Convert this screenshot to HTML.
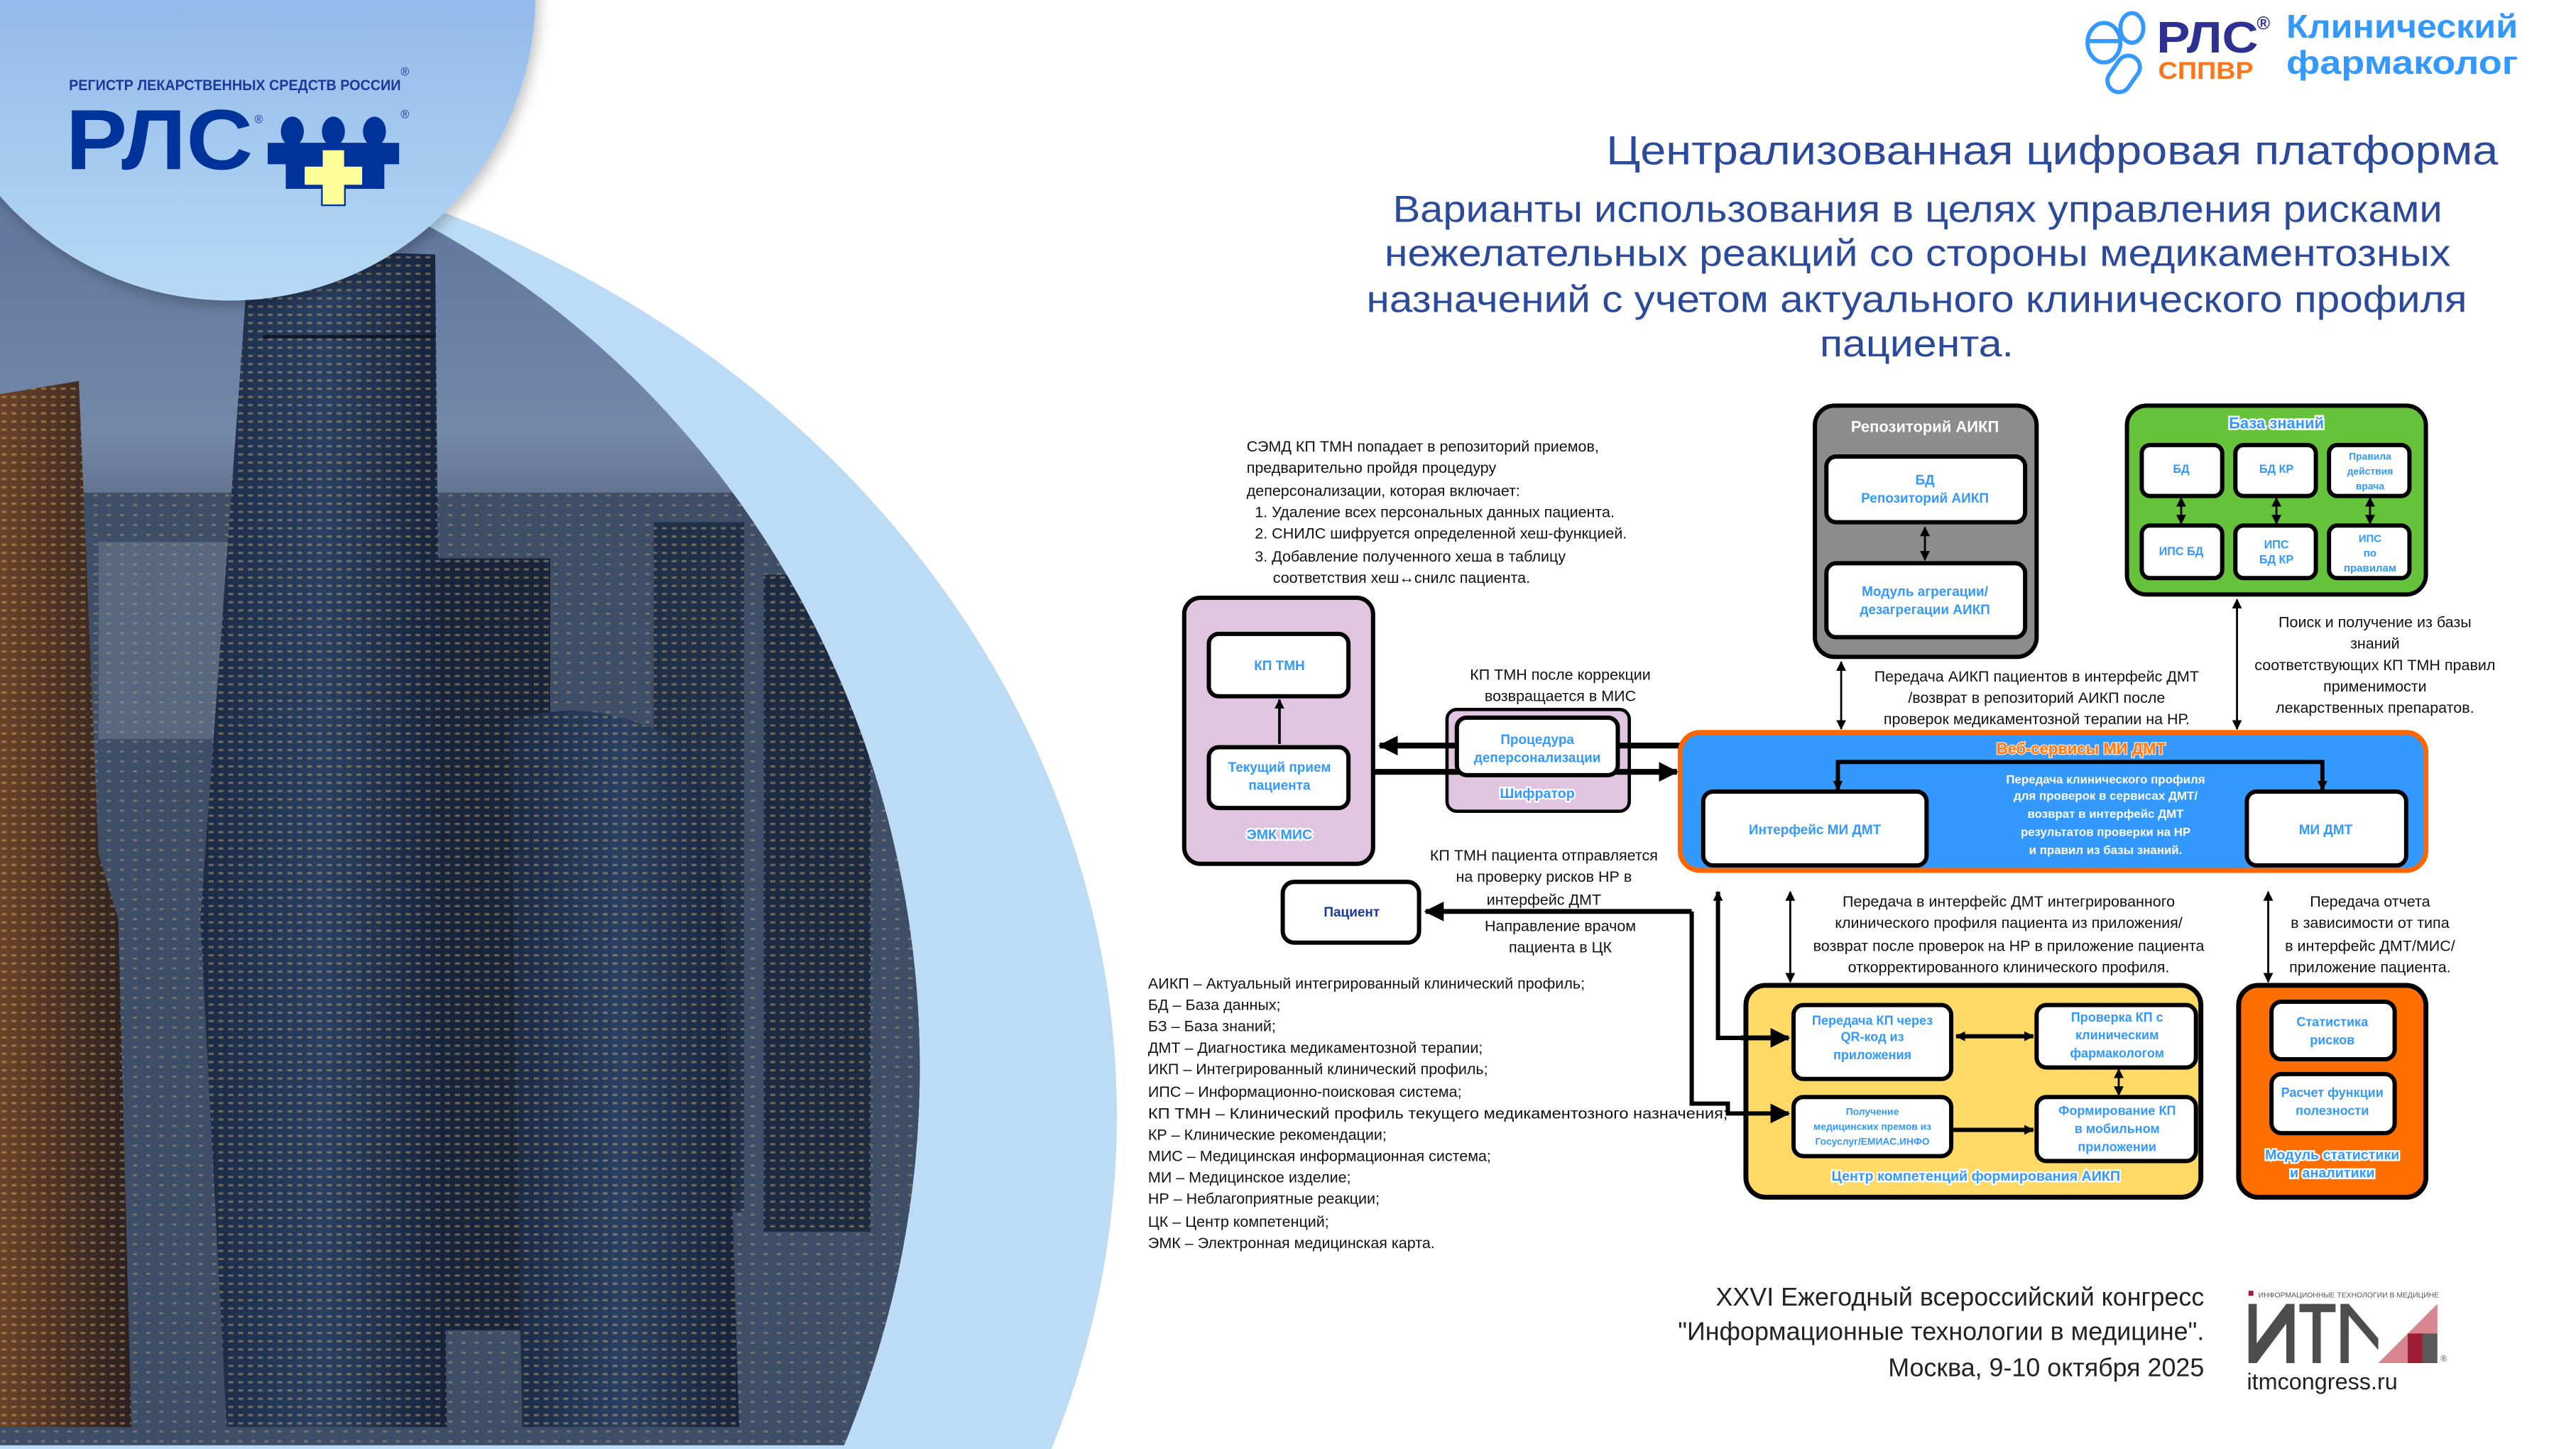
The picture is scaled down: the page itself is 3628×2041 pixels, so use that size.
<!DOCTYPE html>
<html><head><meta charset="utf-8"><style>
html,body{margin:0;padding:0;background:#fff;width:3628px;height:2041px;overflow:hidden;}
svg{display:block;}
text{font-family:"Liberation Sans","DejaVu Sans",sans-serif;}
</style></head><body>
<svg width="3628" height="2041" viewBox="0 0 1568.4 882.3" preserveAspectRatio="xMinYMin meet" xmlns="http://www.w3.org/2000/svg">
<defs>
<linearGradient id="logoG" x1="0" y1="0" x2="0" y2="1"><stop offset="0" stop-color="#6e9be0"/><stop offset="1" stop-color="#b7d9f5"/></linearGradient>
<linearGradient id="sky" x1="0" y1="0" x2="0" y2="1"><stop offset="0" stop-color="#4f6890"/><stop offset="0.3" stop-color="#7488a8"/><stop offset="0.36" stop-color="#5b6c86"/><stop offset="1" stop-color="#1f2c42"/></linearGradient>
<linearGradient id="tw" x1="0" y1="0" x2="1" y2="0"><stop offset="0" stop-color="#1a2a46"/><stop offset="0.5" stop-color="#2a4062"/><stop offset="1" stop-color="#15223a"/></linearGradient>
<linearGradient id="lb" x1="0" y1="0" x2="1" y2="0"><stop offset="0" stop-color="#6a4228"/><stop offset="1" stop-color="#2a2020"/></linearGradient>
<pattern id="win" width="6" height="5" patternUnits="userSpaceOnUse"><rect x="1" y="1" width="3" height="1.4" fill="#e8c479" opacity="0.4"/></pattern>
<pattern id="win2" width="8" height="6" patternUnits="userSpaceOnUse"><rect x="1" y="1" width="2.5" height="1.3" fill="#f0d08a" opacity="0.3"/></pattern>
<clipPath id="photo"><ellipse cx="0" cy="650" rx="560" ry="579"/></clipPath>
<marker id="a" markerWidth="6" markerHeight="6" refX="5.5" refY="3" orient="auto-start-reverse" markerUnits="userSpaceOnUse"><path d="M0,0 L6,3 L0,6 Z" fill="#000"/></marker>
<marker id="A" markerWidth="12" markerHeight="12" refX="11" refY="6" orient="auto-start-reverse" markerUnits="userSpaceOnUse"><path d="M0,0 L12,6 L0,12 Z" fill="#000"/></marker>
<filter id="sh" x="-20%" y="-20%" width="140%" height="140%"><feDropShadow dx="2" dy="3" stdDeviation="4" flood-color="#000" flood-opacity="0.25"/></filter>
</defs>

<ellipse cx="0" cy="680" rx="680" ry="600" fill="#bcdcf5"/>
<g clip-path="url(#photo)">
  <rect x="0" y="0" width="600" height="880" fill="url(#sky)"/>
  <rect x="0" y="300" width="600" height="580" fill="#3e4e66"/>
  <rect x="0" y="300" width="600" height="580" fill="url(#win2)"/>
  <rect x="60" y="330" width="90" height="120" fill="#8a9ab0" opacity="0.35"/>
  <polygon points="0,240 48,232 60,520 72,560 80,869 0,869" fill="url(#lb)"/>
  <polygon points="0,240 48,232 60,520 72,560 80,869 0,869" fill="url(#win)"/>
  <rect x="265" y="340" width="70" height="470" fill="#18243a"/>
  <rect x="265" y="340" width="70" height="470" fill="url(#win)"/>
  <rect x="398" y="318" width="55" height="420" fill="#1f3048"/>
  <rect x="398" y="318" width="55" height="420" fill="url(#win)"/>
  <rect x="465" y="350" width="65" height="400" fill="#1c2b42"/>
  <rect x="465" y="350" width="65" height="400" fill="url(#win)"/>
  <path d="M310,440 Q360,420 420,455 L440,540 L450,869 L318,869 Z" fill="url(#tw)"/>
  <path d="M310,440 Q360,420 420,455 L440,540 L450,869 L318,869 Z" fill="url(#win)"/>
  <path d="M150,175 Q160,150 265,155 L268,500 L272,869 L138,869 L122,560 Z" fill="url(#tw)"/>
  <path d="M150,175 Q160,150 265,155 L268,500 L272,869 L138,869 L122,560 Z" fill="url(#win)"/>
  <line x1="160" y1="205" x2="265" y2="205" stroke="#0e1828" stroke-width="2"/>
</g>
<circle cx="140" cy="-3" r="186" fill="url(#logoG)" filter="url(#sh)"/>

<text x="42" y="55" font-size="9.2" font-weight="bold" fill="#1a3a9a" textLength="202" lengthAdjust="spacingAndGlyphs">РЕГИСТР ЛЕКАРСТВЕННЫХ СРЕДСТВ РОССИИ</text>
<text x="244" y="46" font-size="7" fill="#1a3a9a">®</text>
<text x="40" y="103" font-size="52" font-weight="bold" fill="#00339a" textLength="114" lengthAdjust="spacingAndGlyphs">РЛС</text>
<text x="155" y="75" font-size="7" fill="#1a3a9a">®</text>
<g fill="#00339a">
  <ellipse cx="178" cy="80" rx="7" ry="9"/><ellipse cx="203" cy="80" rx="7" ry="9"/><ellipse cx="228" cy="80" rx="7" ry="9"/>
  <rect x="163" y="87" width="80" height="13"/><rect x="174" y="87" width="60" height="28"/>
</g>
<polygon points="196,91 210,91 210,101 221,101 221,113 210,113 210,125 196,125 196,113 185,113 185,101 196,101" fill="#ffff99" stroke="#00339a" stroke-width="1"/>
<text x="244" y="72" font-size="7" fill="#1a3a9a">®</text>

<g fill="none" stroke="#3399ff" stroke-width="2.5">
  <ellipse cx="1281" cy="26" rx="10" ry="12"/><line x1="1272" y1="25" x2="1290" y2="25"/>
  <ellipse cx="1298" cy="17" rx="7" ry="9"/>
  <rect x="1286" y="33" width="14" height="24" rx="7" transform="rotate(35 1293 45)"/>
</g>
<text x="1313" y="32" font-size="27" font-weight="bold" fill="#2e3192" textLength="62" lengthAdjust="spacingAndGlyphs">РЛС</text>
<text x="1374" y="18" font-size="11" font-weight="bold" fill="#2e3192">®</text>
<text x="1314" y="48" font-size="15" font-weight="bold" fill="#ff7518" textLength="58" lengthAdjust="spacingAndGlyphs">СППВР</text>
<text x="1392" y="23" font-size="20" font-weight="bold" fill="#3399ff" textLength="141" lengthAdjust="spacingAndGlyphs">Клинический</text>
<text x="1392" y="45" font-size="20" font-weight="bold" fill="#3399ff" textLength="141" lengthAdjust="spacingAndGlyphs">фармаколог</text>

<g fill="#2b4a9b" font-size="25">
<text x="978" y="100" textLength="543" lengthAdjust="spacingAndGlyphs">Централизованная цифровая платформа</text>
<text x="848" y="135" font-size="23" textLength="639" lengthAdjust="spacingAndGlyphs">Варианты использования в целях управления  рисками</text>
<text x="843" y="162" font-size="23" textLength="649" lengthAdjust="spacingAndGlyphs">нежелательных реакций со стороны медикаментозных</text>
<text x="832" y="190" font-size="23" textLength="670" lengthAdjust="spacingAndGlyphs">назначений с учетом актуального клинического профиля</text>
<text x="1108" y="217" font-size="23" textLength="118" lengthAdjust="spacingAndGlyphs">пациента.</text>
</g>

<g font-size="9.3" fill="#111">
<text x="759" y="275">СЭМД КП ТМН попадает в репозиторий приемов,</text>
<text x="759" y="288">предварительно пройдя процедуру</text>
<text x="759" y="302">деперсонализации, которая включает:</text>
<text x="764" y="315">1.  Удаление всех персональных данных пациента.</text>
<text x="764" y="328">2.  СНИЛС шифруется определенной хеш-функцией.</text>
<text x="764" y="342">3.  Добавление полученного хеша в таблицу</text>
<text x="775" y="355">соответствия хеш↔снилс пациента.</text>
</g>

<g stroke="#000" stroke-width="2.6">
<rect x="1105" y="247" width="135" height="153" rx="12" fill="#8c8c8c"/>
<rect x="1112" y="278" width="121" height="40" rx="6" fill="#fff"/>
<rect x="1112" y="343" width="121" height="45" rx="6" fill="#fff"/>
<rect x="1295" y="247" width="182" height="115" rx="12" fill="#66c23a"/>
<rect x="1304" y="271" width="49" height="31" rx="5" fill="#fff"/>
<rect x="1361" y="271" width="49" height="31" rx="5" fill="#fff"/>
<rect x="1418" y="271" width="49" height="31" rx="5" fill="#fff"/>
<rect x="1304" y="320" width="49" height="32" rx="5" fill="#fff"/>
<rect x="1361" y="320" width="49" height="32" rx="5" fill="#fff"/>
<rect x="1418" y="320" width="49" height="32" rx="5" fill="#fff"/>
<rect x="721" y="364" width="115" height="162" rx="10" fill="#e0c4e0"/>
<rect x="736" y="386" width="85" height="38" rx="6" fill="#fff"/>
<rect x="736" y="455" width="85" height="37" rx="6" fill="#fff"/>
<rect x="881" y="432" width="111" height="62" rx="6" fill="#e0c4e0" stroke-width="2"/>
<rect x="781" y="537" width="83" height="37" rx="7" fill="#fff"/>
</g>

<line x1="1023" y1="454" x2="840" y2="454" stroke="#000" stroke-width="3.5" marker-end="url(#A)"/>
<line x1="836" y1="470" x2="1021" y2="470" stroke="#000" stroke-width="3.5" marker-end="url(#A)"/>
<rect x="887" y="437" width="98" height="35" rx="6" fill="#fff" stroke="#000" stroke-width="2.6"/>

<rect x="1023" y="446" width="454" height="84" rx="12" fill="#3399ff" stroke="#ff6600" stroke-width="3"/>
<g stroke="#000" stroke-width="2.6" fill="#fff">
<rect x="1037" y="482" width="136" height="45" rx="6"/>
<rect x="1368" y="482" width="97" height="45" rx="6"/>
</g>
<path d="M1119,478 V464 H1414 V478" fill="none" stroke="#000" stroke-width="2.5"/>
<line x1="1119" y1="470" x2="1119" y2="481" stroke="#000" stroke-width="2.5" marker-end="url(#a)"/>
<line x1="1414" y1="470" x2="1414" y2="481" stroke="#000" stroke-width="2.5" marker-end="url(#a)"/>

<rect x="1063" y="600" width="277" height="129" rx="12" fill="#ffd966" stroke="#000" stroke-width="3"/>
<rect x="1363" y="600" width="114" height="129" rx="12" fill="#ff6f00" stroke="#000" stroke-width="3"/>
<g stroke="#000" stroke-width="2.6" fill="#fff">
<rect x="1092" y="612" width="96" height="45" rx="6"/>
<rect x="1240" y="612" width="97" height="38" rx="6"/>
<rect x="1092" y="668" width="96" height="36" rx="6"/>
<rect x="1240" y="668" width="97" height="39" rx="6"/>
<rect x="1383" y="610" width="75" height="35" rx="6"/>
<rect x="1383" y="654" width="75" height="36" rx="6"/>
</g>

<g stroke="#000" stroke-width="1.2" fill="none">
<line x1="1172" y1="321" x2="1172" y2="341" marker-start="url(#a)" marker-end="url(#a)"/>
<line x1="1328" y1="303" x2="1328" y2="319" marker-start="url(#a)" marker-end="url(#a)"/>
<line x1="1386" y1="303" x2="1386" y2="319" marker-start="url(#a)" marker-end="url(#a)"/>
<line x1="1443" y1="303" x2="1443" y2="319" marker-start="url(#a)" marker-end="url(#a)"/>
<line x1="1362" y1="365" x2="1362" y2="444" marker-start="url(#a)" marker-end="url(#a)"/>
<line x1="1121" y1="403" x2="1121" y2="444" marker-start="url(#a)" marker-end="url(#a)"/>
<line x1="1090" y1="543" x2="1090" y2="598" marker-start="url(#a)" marker-end="url(#a)"/>
<line x1="1381" y1="543" x2="1381" y2="598" marker-start="url(#a)" marker-end="url(#a)"/>
<line x1="1290" y1="651" x2="1290" y2="667" marker-start="url(#a)" marker-end="url(#a)"/>
<line x1="779" y1="453" x2="779" y2="426" stroke-width="1.6" marker-end="url(#a)"/>
</g>
<g stroke="#000" stroke-width="2.6" fill="none">
<line x1="1191" y1="631" x2="1238" y2="631" marker-start="url(#a)" marker-end="url(#a)"/>
<line x1="1189" y1="688" x2="1238" y2="688" marker-end="url(#a)"/>
<path d="M1088,632 H1046 V543" marker-end="url(#a)"/>
<line x1="1060" y1="632" x2="1089" y2="632" stroke-width="3" marker-end="url(#A)"/>
<path d="M1030,555 H868" stroke-width="3" marker-end="url(#A)"/>
<path d="M1030,555 V672 H1052 V678 H1089" marker-end="url(#A)"/>
</g>

<g font-size="8.2" font-weight="bold" fill="#3399ff" text-anchor="middle">
<text x="1172" y="263" fill="#fff" font-size="9.5">Репозиторий АИКП</text>
<text x="1172" y="295">БД</text><text x="1172" y="306">Репозиторий АИКП</text>
<text x="1172" y="363">Модуль агрегации/</text><text x="1172" y="374">дезагрегации АИКП</text>
<text x="1328" y="288" font-size="7">БД</text>
<text x="1386" y="288" font-size="7">БД КР</text>
<text x="1443" y="280" font-size="6">Правила</text><text x="1443" y="289" font-size="6">действия</text><text x="1443" y="298" font-size="6">врача</text>
<text x="1328" y="338" font-size="7">ИПС БД</text>
<text x="1386" y="334" font-size="7">ИПС</text><text x="1386" y="343" font-size="7">БД КР</text>
<text x="1443" y="330" font-size="6.5">ИПС</text><text x="1443" y="339" font-size="6.5">по</text><text x="1443" y="348" font-size="6.5">правилам</text>
<text x="779" y="408">КП ТМН</text>
<text x="779" y="470">Текущий прием</text><text x="779" y="481">пациента</text>
<text x="936" y="453">Процедура</text><text x="936" y="464">деперсонализации</text>
<text x="823" y="558" fill="#1a3a9a">Пациент</text>
<text x="1105" y="508">Интерфейс МИ ДМТ</text>
<text x="1416" y="508">МИ ДМТ</text>
<text x="1140" y="624" font-size="7.8">Передача КП через</text><text x="1140" y="634" font-size="7.8">QR-код из</text><text x="1140" y="645" font-size="7.8">приложения</text>
<text x="1289" y="622" font-size="7.8">Проверка КП с</text><text x="1289" y="633" font-size="7.8">клиническим</text><text x="1289" y="644" font-size="7.8">фармакологом</text>
<text x="1140" y="679" font-size="6">Получение</text><text x="1140" y="688" font-size="6">медицинских премов из</text><text x="1140" y="697" font-size="6">Госуслуг/ЕМИАС.ИНФО</text>
<text x="1289" y="679" font-size="7.8">Формирование КП</text><text x="1289" y="690" font-size="7.8">в мобильном</text><text x="1289" y="701" font-size="7.8">приложении</text>
<text x="1420" y="625" font-size="7.8">Статистика</text><text x="1420" y="636" font-size="7.8">рисков</text>
<text x="1420" y="668" font-size="7.8">Расчет функции</text><text x="1420" y="679" font-size="7.8">полезности</text>
</g>
<g font-size="8.5" font-weight="bold" fill="#3399ff" text-anchor="middle" stroke="#fff" stroke-width="2" paint-order="stroke">
<text x="1386" y="261" font-size="9.5">База знаний</text>
<text x="779" y="511">ЭМК МИС</text>
<text x="936" y="486">Шифратор</text>
<text x="1203" y="719">Центр компетенций формирования АИКП</text>
<text x="1420" y="706">Модуль  статистики</text>
<text x="1420" y="717">и  аналитики</text>
</g>
<text x="1267" y="459" font-size="9.5" font-weight="bold" fill="#ff7a1a" text-anchor="middle" stroke="#ffe0c0" stroke-width="1.2" paint-order="stroke">Веб-сервисы МИ ДМТ</text>
<g font-size="7.3" font-weight="bold" fill="#fff" text-anchor="middle">
<text x="1282" y="477">Передача клинического профиля</text>
<text x="1282" y="487">для проверок в сервисах ДМТ/</text>
<text x="1282" y="498">возврат в интерфейс ДМТ</text>
<text x="1282" y="509">результатов проверки на НР</text>
<text x="1282" y="520">и правил из базы знаний.</text>
</g>

<g font-size="9.3" fill="#111" text-anchor="middle">
<text x="950" y="414">КП ТМН после коррекции</text><text x="950" y="427">возвращается в МИС</text>
<text x="1240" y="415">Передача АИКП пациентов в интерфейс ДМТ</text>
<text x="1240" y="428">/возврат в репозиторий АИКП после</text>
<text x="1240" y="441">проверок медикаментозной терапии на НР.</text>
<text x="1446" y="382">Поиск и получение из базы</text>
<text x="1446" y="395">знаний</text>
<text x="1446" y="408">соответствующих КП ТМН правил</text>
<text x="1446" y="421">применимости</text>
<text x="1446" y="434">лекарственных препаратов.</text>
<text x="940" y="524">КП ТМН пациента отправляется</text>
<text x="940" y="537">на проверку рисков НР в</text>
<text x="940" y="551">интерфейс ДМТ</text>
<text x="950" y="567">Направление врачом</text>
<text x="950" y="580">пациента в ЦК</text>
<text x="1223" y="552">Передача в интерфейс ДМТ интегрированного</text>
<text x="1223" y="565">клинического профиля пациента из приложения/</text>
<text x="1223" y="579">возврат после проверок на НР в приложение пациента</text>
<text x="1223" y="592">откорректированного клинического профиля.</text>
<text x="1443" y="552">Передача  отчета</text>
<text x="1443" y="565">в зависимости от типа</text>
<text x="1443" y="579">в интерфейс ДМТ/МИС/</text>
<text x="1443" y="592">приложение пациента.</text>
</g>

<g font-size="9.3" fill="#111">
<text x="699" y="602">АИКП – Актуальный интегрированный клинический профиль;</text>
<text x="699" y="615">БД – База данных;</text>
<text x="699" y="628">БЗ – База знаний;</text>
<text x="699" y="641">ДМТ – Диагностика медикаментозной терапии;</text>
<text x="699" y="654">ИКП – Интегрированный клинический профиль;</text>
<text x="699" y="668">ИПС – Информационно-поисковая система;</text>
<text x="699" y="681" textLength="353" lengthAdjust="spacingAndGlyphs">КП ТМН – Клинический профиль текущего медикаментозного назначения;</text>
<text x="699" y="694">КР – Клинические рекомендации;</text>
<text x="699" y="707">МИС – Медицинская информационная система;</text>
<text x="699" y="720">МИ – Медицинское изделие;</text>
<text x="699" y="733">НР – Неблагоприятные реакции;</text>
<text x="699" y="747">ЦК – Центр компетенций;</text>
<text x="699" y="760">ЭМК – Электронная медицинская карта.</text>
</g>

<g font-size="15.5" fill="#222" text-anchor="end">
<text x="1342" y="795">XXVI Ежегодный всероссийский конгресс</text>
<text x="1342" y="816">"Информационные технологии в медицине".</text>
<text x="1342" y="838">Москва, 9-10 октября 2025</text>
</g>
<rect x="1369" y="786" width="3" height="3" fill="#a01c34"/>
<text x="1375" y="790" font-size="4.3" fill="#555" textLength="110" lengthAdjust="spacingAndGlyphs">ИНФОРМАЦИОННЫЕ ТЕХНОЛОГИИ В МЕДИЦИНЕ</text>
<g fill="#4d4d4d">
<polygon points="1369,794 1374,794 1374,818 1392,794 1397,794 1397,830 1392,830 1392,806 1374,830 1369,830"/>
<rect x="1400" y="794" width="22" height="5"/><rect x="1408" y="794" width="5" height="36"/>
<polygon points="1425,794 1430,794 1448,815 1448,822 1430,801 1430,830 1425,830"/>
</g>
<polygon points="1484,794 1484,830 1448,830" fill="#d9858f"/>
<rect x="1466" y="812" width="9" height="18" fill="#a01c34"/>
<rect x="1475" y="812" width="9" height="18" fill="#5a5a5a"/>
<text x="1486" y="829" font-size="5" fill="#555">®</text>
<text x="1368" y="846" font-size="14" fill="#222">itmcongress.ru</text>
</svg>
</body></html>
